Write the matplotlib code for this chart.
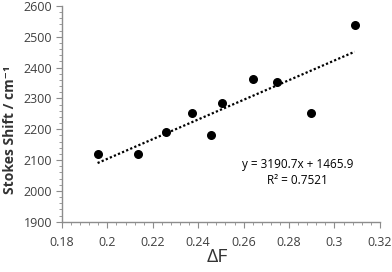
import matplotlib.pyplot as plt
import numpy as np
from matplotlib.ticker import MultipleLocator

# Stokes shift vs Delta F
delta_f = [0.1957, 0.2133, 0.2257, 0.2371, 0.2456, 0.2506, 0.2642, 0.2748, 0.2895, 0.3089]
stokes = [2120, 2120, 2190, 2252, 2181, 2285, 2363, 2353, 2252, 2538]

# trendline from the chart's label
slope = 3190.7
intercept = 1465.9
r2 = 0.7521

plt.rcParams['font.family'] = ['Open Sans', 'DejaVu Sans']

fig = plt.figure(figsize=(3.92, 2.72), dpi=100)
ax = fig.add_axes([0.158, 0.185, 0.811, 0.793])

ax.scatter(delta_f, stokes, s=30, color='black', zorder=3)

xt = np.array([min(delta_f), max(delta_f)])
ax.plot(xt, slope * xt + intercept, color='black', linestyle=(0, (1, 1)), linewidth=1.6)

ax.text(0.74, 0.23, 'y = %.1fx + %.1f\nR² = %.4f' % (slope, intercept, r2),
        transform=ax.transAxes, ha='center', va='center', fontsize=8.5,
        color='black', linespacing=1.3)

ax.set_xlim(0.18, 0.32)
ax.set_ylim(1900, 2600)
ax.xaxis.set_major_locator(MultipleLocator(0.02))
ax.xaxis.set_minor_locator(MultipleLocator(0.004))
ax.yaxis.set_major_locator(MultipleLocator(100))
ax.yaxis.set_minor_locator(MultipleLocator(20))
ax.set_xticklabels(['%g' % v for v in ax.get_xticks()])

for side in ['top', 'right']:
    ax.spines[side].set_visible(False)
for side in ['left', 'bottom']:
    ax.spines[side].set_color('#8c8c8c')
    ax.spines[side].set_linewidth(1.0)

ax.tick_params(which='major', length=4, color='#8c8c8c', labelsize=9, labelcolor='#404040', pad=3)
ax.tick_params(axis='x', which='major', pad=6)
ax.tick_params(which='minor', length=2.5, color='#8c8c8c')

ax.set_xlabel('ΔF', fontsize=14, color='#333333')
ax.xaxis.set_label_coords(0.49, -0.12)
ax.set_ylabel('Stokes Shift / cm⁻¹', fontsize=10, fontweight='bold', color='#333333')
ax.yaxis.set_label_coords(-0.14, 0.425)

fig.savefig('out.png', dpi=100)
